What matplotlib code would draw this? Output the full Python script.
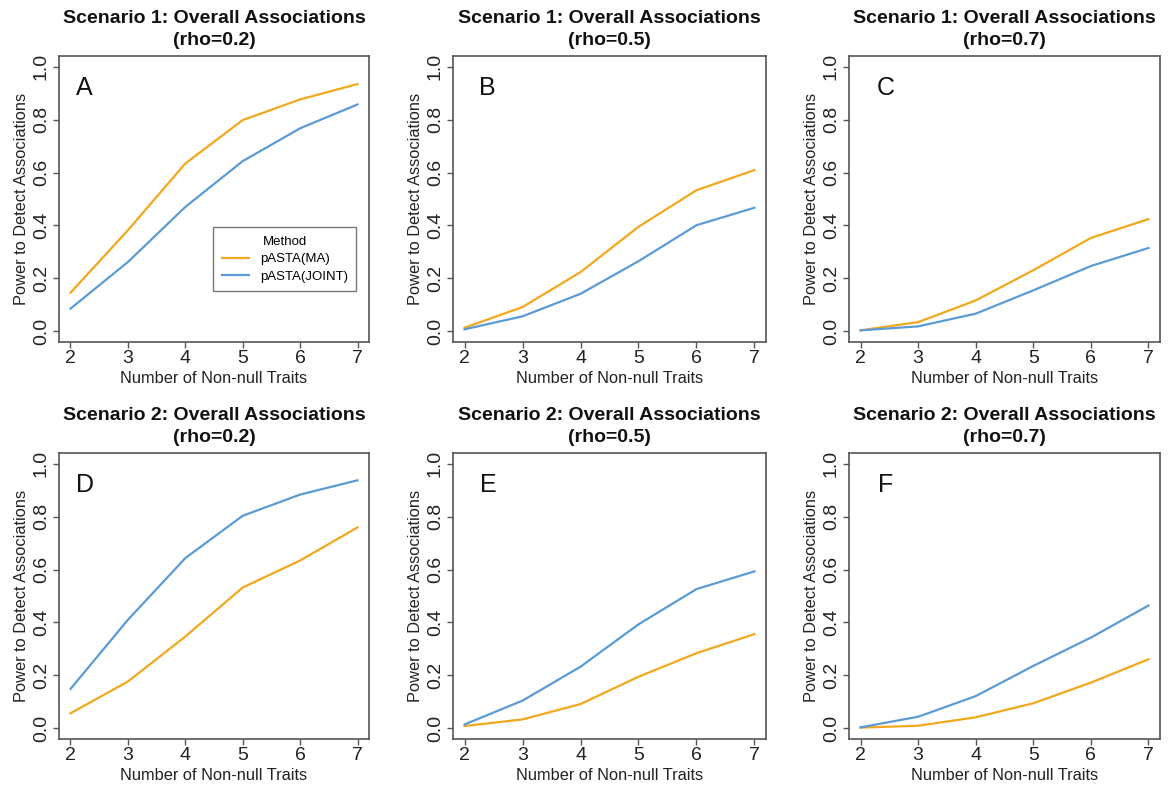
import matplotlib
matplotlib.use("Agg")
import matplotlib.pyplot as plt

plt.rcParams['font.family'] = ['Liberation Sans', 'DejaVu Sans']

traits = [2, 3, 4, 5, 6, 7]
scenarios = ["Scenario 1", "Scenario 1", "Scenario 1", "Scenario 2", "Scenario 2", "Scenario 2"]
rhos = ["0.2", "0.5", "0.7", "0.2", "0.5", "0.7"]
letters = ["A", "B", "C", "D", "E", "F"]

ma_A = [0.146, 0.382, 0.634, 0.798, 0.876, 0.934]
joint_A = [0.086, 0.262, 0.470, 0.643, 0.767, 0.857]
ma_B = [0.014, 0.092, 0.224, 0.395, 0.533, 0.609]
joint_B = [0.008, 0.057, 0.142, 0.265, 0.401, 0.467]
ma_C = [0.004, 0.035, 0.117, 0.231, 0.353, 0.424]
joint_C = [0.004, 0.019, 0.067, 0.155, 0.247, 0.315]
ma_D = [0.057, 0.177, 0.347, 0.532, 0.634, 0.759]
joint_D = [0.149, 0.410, 0.643, 0.803, 0.883, 0.937]
ma_E = [0.009, 0.034, 0.092, 0.195, 0.284, 0.356]
joint_E = [0.015, 0.105, 0.233, 0.393, 0.526, 0.593]
ma_F = [0.003, 0.010, 0.042, 0.095, 0.173, 0.261]
joint_F = [0.004, 0.044, 0.122, 0.236, 0.343, 0.464]

ma_all = [ma_A, ma_B, ma_C, ma_D, ma_E, ma_F]
joint_all = [joint_A, joint_B, joint_C, joint_D, joint_E, joint_F]

ORANGE = '#F2A81D'
BLUE = '#5B9BD5'
GREY = '#555555'

W, H = 1171, 789
fig = plt.figure(figsize=(W / 100, H / 100), dpi=100)

# box edges in pixels (left, right) per column, (top, bottom) per row
cols = [(59, 369), (453, 766), (849, 1160)]
rows = [(56, 342), (453, 739)]
letter_x = [2.1, 2.24, 2.28, 2.1, 2.26, 2.31]

for i in range(6):
    l, r = cols[i % 3]
    t, b = rows[i // 3]
    ax = fig.add_axes([l / W, 1 - b / H, (r - l) / W, (b - t) / H])

    ax.plot(traits, ma_all[i], color=ORANGE, lw=1.6, label='pASTA(MA)')
    ax.plot(traits, joint_all[i], color=BLUE, lw=1.6, label='pASTA(JOINT)')

    ax.set_xlim(1.8, 7.2)
    ax.set_ylim(-0.04, 1.04)
    ax.set_xticks(traits)
    ax.set_yticks([0.0, 0.2, 0.4, 0.6, 0.8, 1.0])
    ax.set_yticklabels(['0.0', '0.2', '0.4', '0.6', '0.8', '1.0'],
                       rotation=90, va='center')
    ax.tick_params(direction='out', length=4.5, width=1, color=GREY,
                   labelsize=14, labelcolor='#222222')
    ax.tick_params(axis='x', pad=1)
    ax.tick_params(axis='y', pad=2)
    for s in ax.spines.values():
        s.set_color(GREY)
        s.set_linewidth(1.2)

    ax.set_xlabel('Number of Non-null Traits', fontsize=11.8, color='#222222', labelpad=3)
    ax.set_ylabel('Power to Detect Associations', fontsize=11.8, color='#222222', labelpad=3)
    ax.set_title(f'{scenarios[i]}: Overall Associations\n(rho={rhos[i]})',
                 fontsize=14, fontweight='bold', color='#111111', pad=8, linespacing=1.38)

    ax.text(letter_x[i], 0.92, letters[i], fontsize=18, ha='left', va='center', color='#111111')

    if i == 0:
        leg = ax.legend(title='Method', loc='upper left', bbox_to_anchor=(0.497, 0.402),
                        fontsize=9.5, title_fontsize=9.5, frameon=True, fancybox=False,
                        handlelength=2.1, borderpad=0.65, labelspacing=0.4,
                        handletextpad=0.8, borderaxespad=0)
        leg.get_frame().set_edgecolor(GREY)
        leg.get_frame().set_linewidth(1.0)

fig.savefig('out.png', dpi=100)
